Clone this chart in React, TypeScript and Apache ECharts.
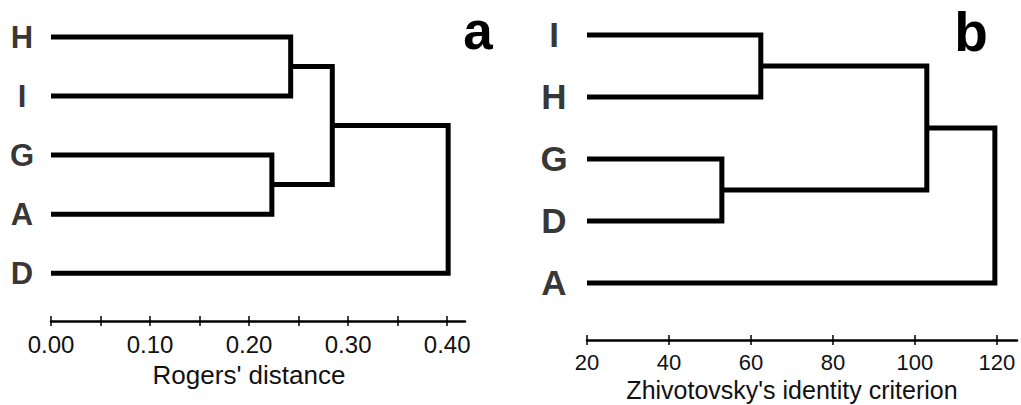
import React, { useEffect, useRef } from "react";
import * as echarts from "echarts";

// ---- data ----
const leftLeaves = ["H", "I", "G", "A", "D"];
// [childA, childB, height]; nodes 0..4 are leaves, 5.. are merges in order
const leftMerges: [number, number, number][] = [
  [0, 1, 0.242],
  [2, 3, 0.223],
  [5, 6, 0.284],
  [7, 4, 0.401],
];
const leftBase = 0;
const leftTicks = [0, 0.05, 0.1, 0.15, 0.2, 0.25, 0.3, 0.35, 0.4];
const leftTickLabels = [0, 0.1, 0.2, 0.3, 0.4];
const leftAxisName = "Rogers' distance";

const rightLeaves = ["I", "H", "G", "D", "A"];
const rightMerges: [number, number, number][] = [
  [0, 1, 62.4],
  [2, 3, 52.9],
  [5, 6, 102.9],
  [7, 4, 119.5],
];
const rightBase = 20;
const rightTicks = [20, 40, 60, 80, 100, 120];
const rightTickLabels = [20, 40, 60, 80, 100, 120];
const rightAxisName = "Zhivotovsky's identity criterion";

const FONT = '"Liberation Sans", Arial, Helvetica, sans-serif';

function buildSeries(
  leaves: string[],
  merges: [number, number, number][],
  base: number,
  axisIdx: number,
  yIdx: number,
  labelSize: number,
  labelOffset: number
) {
  const ys: number[] = leaves.map((_, i) => i);
  const hs: number[] = leaves.map(() => base);
  const series: any[] = [];
  merges.forEach(([a, b, h]) => {
    const y = (ys[a] + ys[b]) / 2;
    series.push({
      type: "line",
      xAxisIndex: axisIdx,
      yAxisIndex: yIdx,
      data: [
        [hs[a], ys[a]],
        [h, ys[a]],
        [h, ys[b]],
        [hs[b], ys[b]],
      ],
      showSymbol: false,
      symbol: "none",
      silent: true,
      clip: false,
      lineStyle: { color: "#000", width: 5, join: "miter", cap: "butt" },
      z: 3,
    });
    ys.push(y);
    hs.push(h);
  });
  series.push({
    type: "scatter",
    xAxisIndex: axisIdx,
    yAxisIndex: yIdx,
    symbolSize: 1,
    silent: true,
    itemStyle: { color: "transparent" },
    data: leaves.map((name, i) => ({ name, value: [base, i] })),
    label: {
      show: true,
      position: "inside",
      offset: [labelOffset, 0],
      formatter: "{b}",
      fontSize: labelSize,
      fontWeight: "bold",
      fontFamily: FONT,
      color: "#000",
      textBorderWidth: 0,
      align: "center",
      verticalAlign: "middle",
    },
    z: 4,
  });
  return series;
}

function mainAxis(
  gridIndex: number,
  min: number,
  max: number,
  ticks: number[],
  labels: number[],
  fmt: (v: number) => string,
  labelSize: number,
  name: string,
  nameGap: number,
  namePadRight: number,
  nameSize: number
) {
  return {
    type: "value",
    gridIndex,
    min,
    max,
    position: "bottom",
    axisLine: { show: true, onZero: false, lineStyle: { color: "#000", width: 2.5 } },
    axisTick: {
      show: true,
      inside: false,
      length: 5,
      customValues: ticks,
      lineStyle: { color: "#000", width: 1.5 },
    },
    axisLabel: {
      show: true,
      customValues: labels,
      formatter: (v: number) => fmt(v),
      fontSize: labelSize,
      fontFamily: FONT,
      color: "#111",
      margin: 11,
      hideOverlap: false,
    },
    splitLine: { show: false },
    name,
    nameLocation: "middle",
    nameGap,
    nameMoveOverlap: false,
    nameTextStyle: {
      fontSize: nameSize,
      fontFamily: FONT,
      color: "#111",
      lineHeight: nameSize,
      padding: [0, namePadRight, 0, 0],
    },
  };
}

function overlayAxis(gridIndex: number, min: number, max: number, ticks: number[]) {
  return {
    type: "value",
    gridIndex,
    min,
    max,
    position: "bottom",
    axisLine: { show: false, onZero: false },
    axisTick: {
      show: true,
      inside: true,
      length: 5,
      customValues: ticks,
      lineStyle: { color: "#000", width: 1.5 },
    },
    axisLabel: { show: false },
    splitLine: { show: false },
  };
}

export default function App() {
  const ref = useRef<HTMLDivElement>(null);
  useEffect(() => {
    if (!ref.current) return;
    const chart = echarts.init(ref.current, undefined, { renderer: "svg" });
    const option: any = {
      animation: false,
      backgroundColor: "#fff",
      grid: [
        { left: 51, top: 7.5, width: 414, height: 313.5, outerBoundsMode: "none", containLabel: false },
        { left: 587, top: 4, width: 430, height: 336, outerBoundsMode: "none", containLabel: false },
      ],
      xAxis: [
        mainAxis(0, 0, 0.418, leftTicks, leftTickLabels, (v) => v.toFixed(2), 24, leftAxisName, 41, 18, 26),
        overlayAxis(0, 0, 0.418, leftTicks),
        mainAxis(1, 20, 124.9, rightTicks, rightTickLabels, (v) => String(Math.round(v)), 22, rightAxisName, 37, 20, 25),
        overlayAxis(1, 20, 124.9, rightTicks),
      ],
      yAxis: [
        { type: "value", gridIndex: 0, min: -0.5, max: 4.81, inverse: true, show: false },
        { type: "value", gridIndex: 1, min: -0.5, max: 4.92, inverse: true, show: false },
      ],
      series: [
        ...buildSeries(leftLeaves, leftMerges, leftBase, 0, 0, 31, -29),
        ...buildSeries(rightLeaves, rightMerges, rightBase, 2, 1, 35, -33),
      ],
      graphic: [
        {
          type: "text",
          x: 478,
          y: 30,
          style: {
            text: "a",
            font: `bold 53px ${FONT}`,
            fill: "#000",
            align: "center",
            verticalAlign: "middle",
          },
        },
        {
          type: "text",
          x: 971,
          y: 32,
          style: {
            text: "b",
            font: `bold 55px ${FONT}`,
            fill: "#000",
            align: "center",
            verticalAlign: "middle",
          },
        },
      ],
    };
    chart.setOption(option);
    return () => chart.dispose();
  }, []);
  return (
    <div
      ref={ref}
      style={{ position: "fixed", left: 0, top: 0, width: 1021, height: 405, background: "#fff" }}
    />
  );
}
